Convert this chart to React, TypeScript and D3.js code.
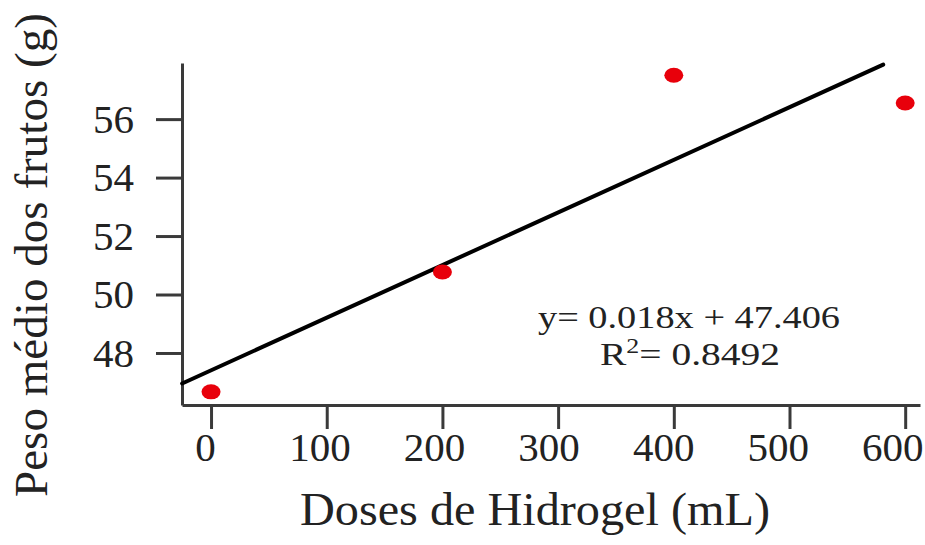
import React, { useEffect, useRef } from "react";
import * as d3 from "d3";

// data
const doses = [0, 200, 400, 600];
const peso = [46.67, 50.77, 57.5, 56.55];
const xTicks = [0, 100, 200, 300, 400, 500, 600];
const yTicks = [48, 50, 52, 54, 56];
const slope = 0.018;
const intercept = 47.406;
const lineRange = [-25, 581];

export default function App() {
  const ref = useRef<SVGSVGElement>(null);

  useEffect(() => {
    document.body.style.margin = "0";
    const svg = d3.select(ref.current);
    svg.selectAll("*").remove();

    const x = d3.scaleLinear().domain([-25.1, 612.8]).range([182, 920]);
    const y = d3.scaleLinear().domain([46.22, 57.92]).range([405, 63]);
    const font = "'Liberation Serif', 'Times New Roman', serif";
    const axisColor = "#3a3a3a";

    // x axis
    const gx = svg
      .append("g")
      .attr("transform", "translate(0,405)")
      .call(d3.axisBottom(x).tickValues(xTicks).tickSize(24).tickSizeOuter(0).tickPadding(3));
    gx.select(".domain").attr("stroke", axisColor).attr("stroke-width", 3);
    gx.selectAll(".tick line").attr("stroke", axisColor).attr("stroke-width", 3);
    // labels in the original sit a little left of their ticks
    gx.selectAll<SVGTextElement, number>(".tick text")
      .attr("dx", (d) => -6 - d * (7 / 600))
      .attr("font-family", font)
      .attr("font-size", 41)
      .attr("fill", "#222");

    // y axis
    const gy = svg
      .append("g")
      .attr("transform", "translate(182,0)")
      .call(d3.axisLeft(y).tickValues(yTicks).tickSize(26).tickSizeOuter(0).tickPadding(22));
    gy.select(".domain").attr("stroke", axisColor).attr("stroke-width", 3);
    gy.selectAll(".tick line").attr("stroke", axisColor).attr("stroke-width", 3);
    gy.selectAll(".tick text")
      .attr("font-family", font)
      .attr("font-size", 41)
      .attr("fill", "#222");

    // regression line
    const line = d3
      .line<number>()
      .x((d) => x(d))
      .y((d) => y(slope * d + intercept));
    svg
      .append("path")
      .attr("d", line(lineRange))
      .attr("fill", "none")
      .attr("stroke", "#000")
      .attr("stroke-width", 4)
      .attr("stroke-linecap", "round");

    // points
    svg
      .append("g")
      .selectAll("ellipse")
      .data(doses)
      .join("ellipse")
      .attr("cx", (d) => x(d))
      .attr("cy", (d, i) => y(peso[i]))
      .attr("rx", 9.5)
      .attr("ry", 7.5)
      .attr("fill", "#e8000b");

    // equation
    svg
      .append("text")
      .attr("x", 689)
      .attr("y", 328)
      .attr("text-anchor", "middle")
      .attr("font-family", font)
      .attr("font-size", 32)
      .attr("fill", "#222")
      .attr("textLength", 302)
      .attr("lengthAdjust", "spacingAndGlyphs")
      .text("y= 0.018x + 47.406");

    const r2 = svg
      .append("text")
      .attr("x", 690)
      .attr("y", 365)
      .attr("text-anchor", "middle")
      .attr("font-family", font)
      .attr("font-size", 32)
      .attr("fill", "#222")
      .attr("textLength", 180)
      .attr("lengthAdjust", "spacingAndGlyphs");
    r2.append("tspan").text("R");
    r2.append("tspan").attr("font-size", 21).attr("dy", -12).text("2");
    r2.append("tspan").attr("dy", 12).text("= 0.8492");

    // axis titles
    svg
      .append("text")
      .attr("x", 535)
      .attr("y", 525)
      .attr("text-anchor", "middle")
      .attr("font-family", font)
      .attr("font-size", 47)
      .attr("fill", "#222")
      .attr("textLength", 470)
      .attr("lengthAdjust", "spacingAndGlyphs")
      .text("Doses de Hidrogel (mL)");

    svg
      .append("text")
      .attr("transform", "translate(47,255) rotate(-90)")
      .attr("text-anchor", "middle")
      .attr("font-family", font)
      .attr("font-size", 46)
      .attr("fill", "#222")
      .attr("textLength", 484)
      .attr("lengthAdjust", "spacingAndGlyphs")
      .text("Peso médio dos frutos (g)");
  }, []);

  return <svg ref={ref} width={925} height={545} style={{ display: "block", background: "#fff" }} />;
}
